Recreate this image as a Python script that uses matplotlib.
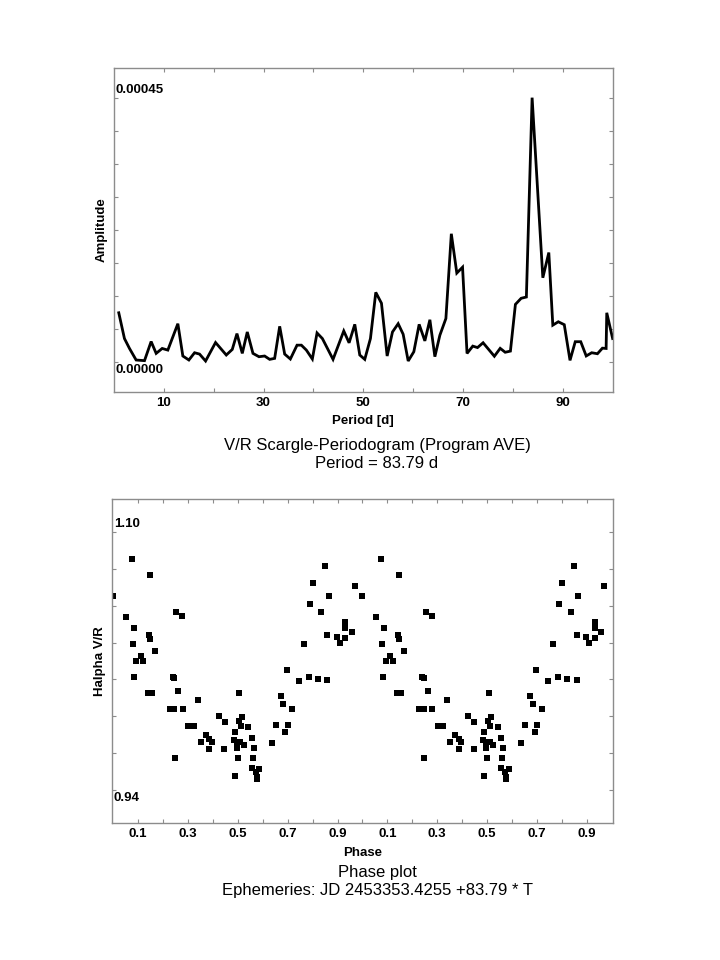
# Import libraries
import numpy as np
import matplotlib
matplotlib.use("Agg")
import matplotlib.pyplot as plt
from matplotlib.ticker import FixedLocator, NullFormatter

# Declare variable
plt.rcParams['font.family'] = ['Liberation Sans', 'DejaVu Sans']

## Periodogram (period in days, amplitude in units of 1e-5)
period = [0.96, 2.10, 3.11, 4.44, 6.12, 7.45, 8.46, 9.67, 10.80, 12.81,
          13.81, 15.02, 16.16, 17.16, 18.37, 20.37, 22.52, 23.72, 24.66, 25.73,
          26.73, 27.87, 29.08, 30.21, 31.22, 32.22, 33.23, 34.23, 35.37, 36.71,
          37.58, 38.58, 39.78, 40.72, 41.79, 43.93, 46.08, 47.15, 48.29, 49.29,
          50.29, 51.43, 52.50, 53.64, 54.78, 55.85, 56.99, 57.99, 59.00, 60.13,
          61.20, 62.34, 63.35, 64.35, 65.35, 66.56, 67.65, 68.75, 69.90, 70.80,
          71.95, 72.90, 74.02, 76.28, 77.45, 78.45, 79.50, 80.50, 81.65, 82.70,
          83.85, 86.00, 87.20, 88.00, 89.10, 90.30, 91.45, 92.50, 93.60, 94.70,
          95.80, 96.95, 97.95, 98.69, 98.82, 100.0]
amplitude_1e5 = [8.33, 3.94, 2.25, 0.28, 0.17, 3.43, 1.41, 2.25, 1.97, 6.47,
                 0.96, 0.28, 1.52, 1.29, 0.11, 3.26, 1.13, 2.08, 4.78, 1.41,
                 5.06, 1.41, 0.84, 0.96, 0.39, 0.56, 6.02, 1.29, 0.45, 2.81,
                 2.81, 1.97, 0.45, 4.89, 3.94, 0.39, 5.23, 3.21, 6.36, 1.13,
                 0.39, 3.94, 11.81, 9.96, 0.96, 5.06, 6.47, 4.67, 0.11, 1.69,
                 6.36, 3.54, 7.14, 0.85, 4.50, 7.35, 21.80, 15.10, 16.10, 1.40,
                 2.65, 2.40, 3.22, 0.92, 2.27, 1.60, 1.80, 9.76, 10.80, 11.02,
                 45.00, 14.30, 18.60, 6.22, 6.80, 6.30, 0.22, 3.40, 3.40, 0.97,
                 1.52, 1.35, 2.30, 2.25, 8.33, 3.94]
period_ticks = [10, 20, 30, 40, 50, 60, 70, 80, 90]
period_labels = ['10', '', '30', '', '50', '', '70', '', '90']

## Phase plot (one cycle, drawn twice)
phase = [0.000, 0.075, 0.148, 0.801, 0.788, 0.849, 0.865, 0.969,
         0.053, 0.085, 0.144, 0.148, 0.079, 0.167, 0.111, 0.093, 0.121, 0.083,
         0.253, 0.278, 0.239, 0.246, 0.262, 0.140, 0.154, 0.340, 0.227, 0.246,
         0.281, 0.423, 0.506, 0.517, 0.674, 0.683, 0.719, 0.697, 0.745, 0.785,
         0.821, 0.859, 0.765, 0.835, 0.859, 0.896, 0.931, 0.931, 0.957, 0.908,
         0.931,
         0.447, 0.302, 0.324, 0.503, 0.511, 0.542, 0.488, 0.371, 0.386, 0.351,
         0.397, 0.483, 0.497, 0.510, 0.524, 0.556, 0.386, 0.446, 0.497, 0.564,
         0.247, 0.499, 0.560, 0.556, 0.587, 0.573, 0.577, 0.577, 0.488, 0.636,
         0.654, 0.691, 0.700]
vr = [1.0604, 1.0834, 1.0735, 1.0687, 1.0554, 1.0791, 1.0604, 1.0666,
      1.0472, 1.0403, 1.0364, 1.0335, 1.0304, 1.0262, 1.0231, 1.0202, 1.0202, 1.0101,
      1.0503, 1.0480, 1.0101, 1.0092, 1.0015, 1.0001, 1.0001, 0.9960, 0.9900, 0.9900,
      0.9900, 0.9860, 0.9999, 0.9850, 0.9981, 0.9931, 0.9900, 1.0142, 1.0074, 1.0099,
      1.0090, 1.0080, 1.0304, 1.0505, 1.0364, 1.0351, 1.0444, 1.0403, 1.0382, 1.0310,
      1.0341,
      0.9819, 0.9798, 0.9798, 0.9829, 0.9798, 0.9792, 0.9757, 0.9740, 0.9714, 0.9698,
      0.9698, 0.9709, 0.9698, 0.9698, 0.9678, 0.9720, 0.9651, 0.9651, 0.9661, 0.9657,
      0.9599, 0.9599, 0.9599, 0.9537, 0.9527, 0.9512, 0.9465, 0.9480, 0.9487, 0.9692,
      0.9802, 0.9761, 0.9802]
phase_ticks = [0.1, 0.2, 0.3, 0.4, 0.5, 0.6, 0.7, 0.8, 0.9, 1.0,
               1.1, 1.2, 1.3, 1.4, 1.5, 1.6, 1.7, 1.8, 1.9]
phase_labels = ['0.1', '', '0.3', '', '0.5', '', '0.7', '', '0.9', '',
                '0.1', '', '0.3', '', '0.5', '', '0.7', '', '0.9']

SPINE_COLOR = '#8c8c8c'


# Declare function
def style_axes(ax):
    for side in ['left', 'right', 'top', 'bottom']:
        ax.spines[side].set_color(SPINE_COLOR)
        ax.spines[side].set_linewidth(1.0)
    ax.tick_params(axis='both', which='both', direction='in', length=3,
                   color=SPINE_COLOR, top=True, right=True, labelsize=9.5)
    for lbl in ax.get_xticklabels():
        lbl.set_fontweight('bold')


def draw_periodogram(fig):
    ax = fig.add_axes([0.1583, 0.592, 0.6926, 0.3372])
    amp = np.array(amplitude_1e5) * 1e-5
    ax.plot(period, amp, color='black', lw=2.0, solid_joinstyle='miter')
    step = 0.00045 / 8
    ax.set_xlim(0, 100)
    ax.set_ylim(-0.91 * step, 0.00045 + 0.9 * step)
    ax.xaxis.set_major_locator(FixedLocator(period_ticks))
    ax.set_xticklabels(period_labels)
    ax.yaxis.set_major_locator(FixedLocator(np.linspace(0, 0.00045, 9)))
    ax.yaxis.set_major_formatter(NullFormatter())
    style_axes(ax)
    tr = ax.get_yaxis_transform()
    ax.text(0.003, 0.00045 + 0.06 * step, '0.00045', transform=tr, ha='left', va='bottom',
            fontsize=9.5, fontweight='bold')
    ax.text(0.003, -0.06 * step, '0.00000', transform=tr, ha='left', va='top',
            fontsize=9.5, fontweight='bold')
    ax.set_xlabel('Period [d]', fontsize=9.5, fontweight='bold', labelpad=5)
    ax.set_ylabel('Amplitude', fontsize=9.5, fontweight='bold')
    ax.yaxis.set_label_coords(-0.012, 0.5)
    fig.text(377 / 720, 1 - 445 / 960, 'V/R Scargle-Periodogram (Program AVE)',
             ha='center', va='center', fontsize=12)
    fig.text(377 / 720, 1 - 463 / 960, 'Period = 83.79 d',
             ha='center', va='center', fontsize=12)


def draw_phase_plot(fig):
    ax = fig.add_axes([0.1551, 0.1430, 0.6959, 0.3369])
    ph = np.array(phase)
    ax.plot(np.concatenate([ph, ph + 1]), vr + vr, 's', color='black',
            ms=4.2, mew=0, linestyle='none')
    step = 0.16 / 7
    ax.set_xlim(-0.006, 2.004)
    ax.set_ylim(0.94 - 0.9 * step, 1.10 + 0.9 * step)
    ax.xaxis.set_major_locator(FixedLocator(phase_ticks))
    ax.set_xticklabels(phase_labels)
    ax.yaxis.set_major_locator(FixedLocator(np.linspace(0.94, 1.10, 8)))
    ax.yaxis.set_major_formatter(NullFormatter())
    style_axes(ax)
    tr = ax.get_yaxis_transform()
    ax.text(0.004, 1.10 + 0.06 * step, '1.10', transform=tr, ha='left', va='bottom',
            fontsize=9.5, fontweight='bold')
    ax.text(0.004, 0.94 - 0.06 * step, '0.94', transform=tr, ha='left', va='top',
            fontsize=9.5, fontweight='bold')
    ax.set_xlabel('Phase', fontsize=9.5, fontweight='bold', labelpad=5)
    ax.set_ylabel('Halpha V/R', fontsize=9.5, fontweight='bold')
    ax.yaxis.set_label_coords(-0.0115, 0.5)
    fig.text(377 / 720, 1 - 873 / 960, 'Phase plot',
             ha='center', va='center', fontsize=12)
    fig.text(377 / 720, 1 - 891 / 960, 'Ephemeries: JD 2453353.4255 +83.79 * T',
             ha='center', va='center', fontsize=12)


# Script entrypoint
if __name__ == '__main__':
    fig = plt.figure(figsize=(7.2, 9.6), dpi=100)
    fig.patch.set_facecolor('white')
    draw_periodogram(fig)
    draw_phase_plot(fig)
    fig.savefig('out.png', dpi=100, facecolor='white')
